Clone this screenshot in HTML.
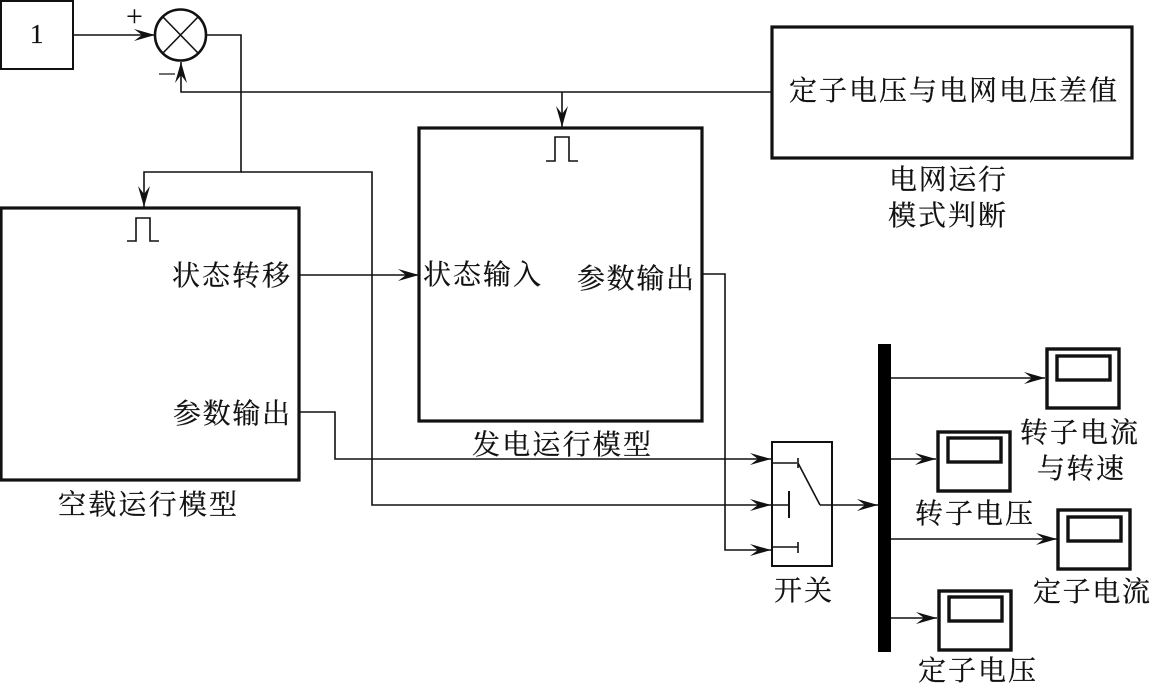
<!DOCTYPE html>
<html><head><meta charset="utf-8"><style>
html,body{margin:0;padding:0;background:#fff}
svg{display:block}
text{font-family:"Liberation Serif","Noto Serif CJK SC",serif;fill:#111;font-size:28px;stroke:#111;stroke-width:.25}
.l{fill:none;stroke:#111;stroke-width:1.6}
.b{fill:none;stroke:#111;stroke-width:3.2}
.m{fill:none;stroke:#111;stroke-width:3.4}
.a{fill:#111;stroke:none}
</style></head><body>
<svg width="1150" height="684" viewBox="0 0 1150 684" xmlns="http://www.w3.org/2000/svg">
<defs>
<path id="ar" class="a" d="M0 0 L-21 -6 L-13 0 L-21 6 Z"/>
</defs>
<rect x="1" y="1" width="72" height="68" fill="none" stroke="#111" stroke-width="2"/>
<text x="30" y="43" style="font-size:27px">1</text>
<text x="126" y="26" style="font-size:30px;stroke:none">+</text>
<path d="M159 74H175" fill="none" stroke="#111" stroke-width="1.2"/>
<circle cx="180.500" cy="35" r="25.500" fill="none" stroke="#111" stroke-width="2.600"/>
<path class="l" d="M163 17L198 53M198 17L163 53"/>
<path class="l" d="M73 35H155"/>
<use href="#ar" transform="translate(155,35)"/>
<path class="l" d="M206 35H241V172H144V207"/>
<use href="#ar" transform="translate(144,207) rotate(90)"/>
<path class="l" d="M241 172H372V505H771"/>
<use href="#ar" transform="translate(771,505)"/>
<path class="l" d="M772 92H181V62"/>
<use href="#ar" transform="translate(181,62) rotate(-90)"/>
<path class="l" d="M562 92V127"/>
<use href="#ar" transform="translate(562,127) rotate(90)"/>
<rect class="b" x="772" y="27" width="360" height="131"/>
<rect class="b" x="419" y="128" width="283" height="293"/>
<rect class="b" x="1" y="208" width="298" height="272"/>
<path class="l" d="M546 161H555V137H569V161H578"/>
<path class="l" d="M127 241H136V218H150V241H159"/>
<path class="l" d="M299 275H419"/>
<use href="#ar" transform="translate(419,275)"/>
<path class="l" d="M299 412H335V459H771"/>
<use href="#ar" transform="translate(771,459)"/>
<path class="l" d="M702 274H725V550H771"/>
<use href="#ar" transform="translate(771,550)"/>
<rect x="772" y="442" width="60" height="124" fill="none" stroke="#111" stroke-width="2"/>
<path class="l" d="M772 463H797M798 458V468M798 463L820 505M820 505H878M772 505H789M772 547H798M798 542V553"/>
<path d="M789 491V518" fill="none" stroke="#111" stroke-width="2"/>
<use href="#ar" transform="translate(878,505)"/>
<rect x="878" y="344" width="13" height="308" fill="#000"/>
<path class="l" d="M891 378H1045M891 459H936M891 539H1057M891 618H937"/>
<use href="#ar" transform="translate(1045,378)"/>
<use href="#ar" transform="translate(936,459)"/>
<use href="#ar" transform="translate(1057,539)"/>
<use href="#ar" transform="translate(937,618)"/>
<rect class="m" x="1047" y="349" width="72" height="59"/><rect class="m" x="1057" y="356" width="53" height="24"/>
<rect class="m" x="938" y="432" width="72" height="59"/><rect class="m" x="948" y="438" width="53" height="24"/>
<rect class="m" x="1058" y="510" width="72" height="59"/><rect class="m" x="1068" y="517" width="53" height="24"/>
<rect class="m" x="939" y="591" width="72" height="59"/><rect class="m" x="949" y="597" width="53" height="24"/>
<text x="789" y="100" textLength="328">定子电压与电网电压差值</text>
<text x="889" y="189" textLength="117">电网运行</text>
<text x="888" y="225" textLength="118">模式判断</text>
<text x="172" y="285" textLength="118">状态转移</text>
<text x="423" y="284" textLength="118">状态输入</text>
<text x="577" y="288" textLength="117">参数输出</text>
<text x="173" y="423" textLength="117">参数输出</text>
<text x="472" y="454" textLength="179">发电运行模型</text>
<text x="58" y="514" textLength="179">空载运行模型</text>
<text x="774" y="600" textLength="58">开关</text>
<text x="1020" y="442" textLength="118">转子电流</text>
<text x="1037" y="478" textLength="87">与转速</text>
<text x="915" y="523" textLength="118">转子电压</text>
<text x="1033" y="601" textLength="117">定子电流</text>
<text x="918" y="680" textLength="118">定子电压</text>
</svg>
</body></html>
